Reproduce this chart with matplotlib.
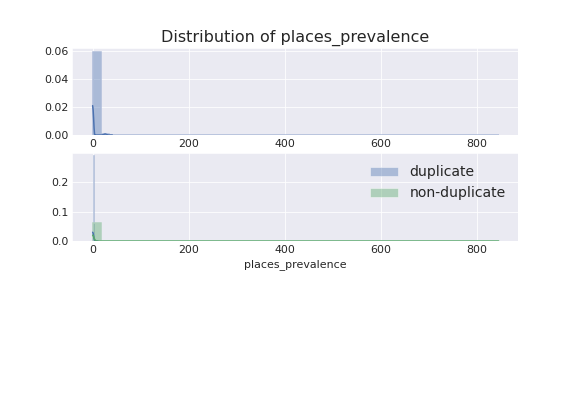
import matplotlib
matplotlib.use("Agg")
import matplotlib.pyplot as plt
from matplotlib.patches import Patch
import seaborn as sns
import numpy as np

sns.set_style("darkgrid")
plt.rcParams["font.family"] = ["DejaVu Sans"]

BLUE = "#4C72B0"
GREEN = "#55A868"
# opaque tints equal to the 0.4-alpha colours over the grey background
BLUE_EDGE = "#ABBAD8"
GREEN_EDGE = "#AECFBB"

# ---- top panel: histogram (50 bins over 0..845) + kde
top_edges = np.linspace(0, 845, 51)
top_heights = [0.0593, 0.0004, 0.0001, 0, 0, 0, 0, 0, 0, 0,
               0, 0, 0, 0, 0, 0, 0, 0, 0, 0,
               0, 0, 0, 0, 0, 0, 0, 0, 0, 0,
               0, 0, 0, 0, 0, 0, 0, 0, 0, 0,
               0, 0, 0, 0, 0, 0, 0, 0, 0, 0]
top_kde_x = [-1, 0, 1, 2, 3, 6, 12, 18, 22, 25, 28, 32, 40]
top_kde_y = [0.021, 0.018, 0.012, 0.005, 0.0005, 0, 0, 0, 0.0004, 0.0008, 0.0004, 0, 0]

# ---- bottom panel: duplicate vs non-duplicate
dup_edges = np.linspace(0, 85, 51)
dup_heights = [0.29, 0.0008, 0.0002, 0, 0, 0, 0, 0, 0, 0,
               0, 0, 0, 0, 0, 0, 0, 0, 0, 0,
               0, 0, 0, 0, 0, 0, 0, 0, 0, 0,
               0, 0, 0, 0, 0, 0, 0, 0, 0, 0,
               0, 0, 0, 0, 0, 0, 0, 0, 0, 0]
dup_kde_x = [-1, 0, 1, 2, 3, 4, 6, 10]
dup_kde_y = [0.03, 0.027, 0.018, 0.008, 0.002, 0, 0, 0]

non_edges = np.linspace(0, 845, 51)
non_heights = [0.061, 0.0005, 0.0001, 0, 0, 0, 0, 0, 0, 0,
               0, 0, 0, 0, 0, 0, 0, 0, 0, 0,
               0, 0, 0, 0, 0, 0, 0, 0, 0, 0,
               0, 0, 0, 0, 0, 0, 0, 0, 0, 0,
               0, 0, 0, 0, 0, 0, 0, 0, 0, 0]
non_kde_x = [-1, 0, 1, 2, 4, 6, 8, 12, 20, 845]
non_kde_y = [0.02, 0.019, 0.015, 0.01, 0.004, 0.001, 0, 0, 0, 0]


def hist_bars(ax, edges, heights, color, edge, lw=1.5):
    widths = np.diff(edges)
    ax.bar(edges[:-1], heights, width=widths, align="edge",
           facecolor=color, alpha=None, edgecolor=edge, linewidth=lw)
    # face transparency only
    for p in ax.patches[-len(heights):]:
        p.set_facecolor(matplotlib.colors.to_rgba(color, 0.4))


fig = plt.figure(figsize=(8, 5.5), dpi=72)
ax1 = fig.add_axes([0.125, 0.659, 0.775, 0.220])
ax2 = fig.add_axes([0.125, 0.391, 0.775, 0.223])

hist_bars(ax1, top_edges, top_heights, BLUE, BLUE_EDGE)
ax1.plot(top_kde_x, top_kde_y, color=BLUE, lw=1.5)
ax1.set_xlim(-44, 886)
ax1.set_ylim(0, 0.0622)
ax1.set_yticks([0.0, 0.02, 0.04, 0.06])
ax1.set_xticks([0, 200, 400, 600, 800])
ax1.set_title("Distribution of places_prevalence", fontsize=16)

hist_bars(ax2, dup_edges, dup_heights, BLUE, BLUE_EDGE, lw=0.5)
ax2.plot(dup_kde_x, dup_kde_y, color=BLUE, lw=1.5)
hist_bars(ax2, non_edges, non_heights, GREEN, GREEN_EDGE)
ax2.plot(non_kde_x, non_kde_y, color=GREEN, lw=1.5)
ax2.set_xlim(-44, 886)
ax2.set_ylim(0, 0.298)
ax2.set_yticks([0.0, 0.1, 0.2])
ax2.set_xticks([0, 200, 400, 600, 800])
ax2.set_xlabel("places_prevalence", fontsize=11)

handles = [Patch(facecolor=BLUE, alpha=0.4), Patch(facecolor=GREEN, alpha=0.4)]
ax2.legend(handles, ["duplicate", "non-duplicate"], loc="upper right",
           fontsize=14, frameon=False)

for ax in (ax1, ax2):
    ax.tick_params(labelsize=11, length=0)

fig.savefig("out.png", dpi=72)
